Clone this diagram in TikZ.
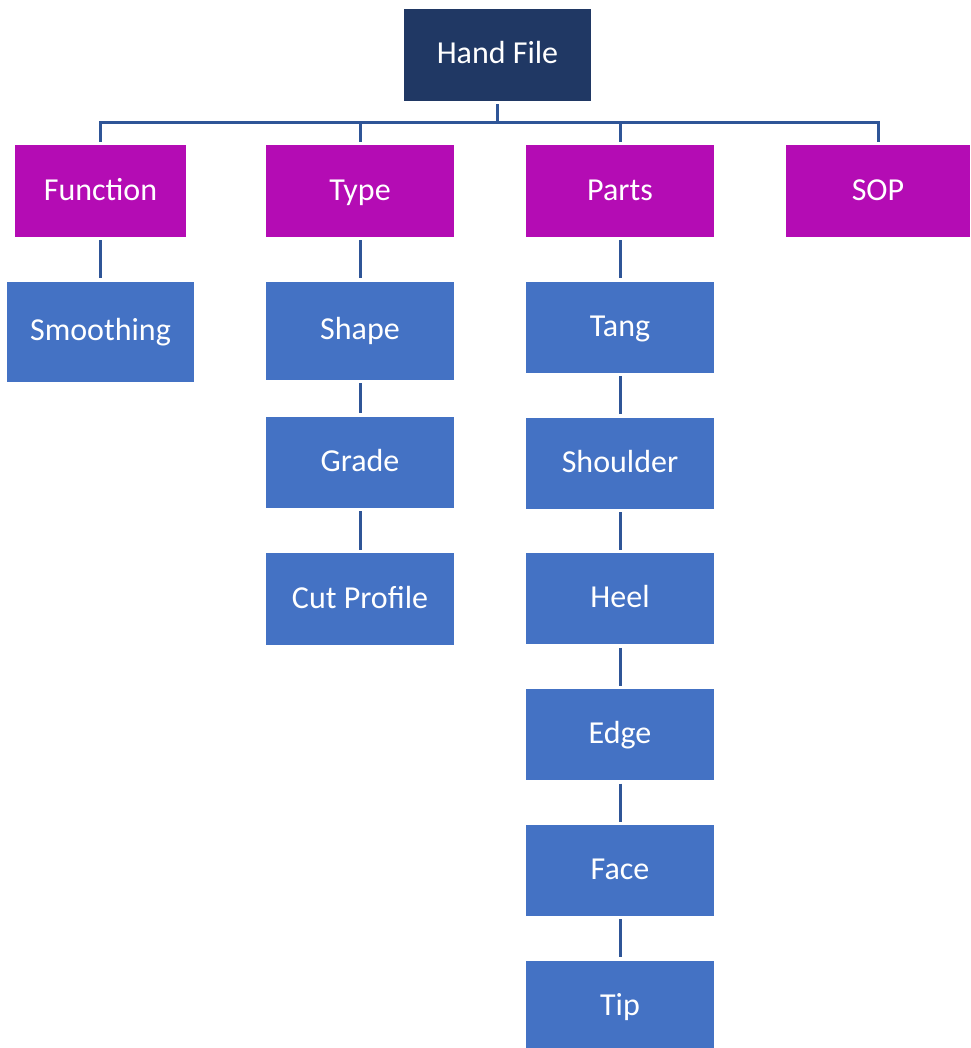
\documentclass[tikz,border=0pt]{standalone}
\usepackage{fontspec}
\setmainfont{Carlito}
\usetikzlibrary{positioning}
\definecolor{navy}{RGB}{32,56,100}
\definecolor{purp}{RGB}{180,12,180}
\definecolor{officeblue}{RGB}{68,114,196}
\definecolor{wire}{RGB}{47,85,151}

\begin{document}
\begin{tikzpicture}[x=0.5pt,y=-0.5pt,node distance=22pt]
        \tikzstyle{box}=[minimum width=94pt,minimum height=45.5pt,inner sep=0pt,text height=12.5pt,text depth=3.5pt,text=white,font=\fontsize{16}{19}\selectfont]
        \tikzstyle{rootbox}=[box,fill=navy,minimum width=93.5pt,minimum height=46pt]
        \tikzstyle{catbox}=[box,fill=purp,minimum height=46pt]
        \tikzstyle{itembox}=[box,fill=officeblue]
        \tikzstyle{link}=[draw=wire,line width=1.5pt,shorten <=1.5pt,shorten >=1.5pt]
        \tikzstyle{trunk}=[draw=wire,line width=1.5pt,shorten <=1.5pt]
        \useasboundingbox (0,0) rectangle (970,1048);
        \node[rootbox] (hand) at (497.5,55) {Hand File};
        \coordinate (bus) at (497.5,123);
        \node[catbox,minimum width=85.5pt] (func) at (100.5,191) {Function};
        \node[catbox] (type) at (360,191) {Type};
        \node[catbox] (parts) at (620,191) {Parts};
        \node[catbox,minimum width=92pt] (sop) at (878,191) {SOP};
        \node[itembox,below=of func,minimum width=93.5pt,minimum height=50pt] (smooth) {Smoothing};
        \node[itembox,below=of type,minimum height=49pt] (shape) {Shape};
        \node[itembox,below=18pt of shape] (grade) {Grade};
        \node[itembox,below=22.5pt of grade,minimum height=46pt] (cut) {Cut Profile};
        \node[itembox,below=of parts] (tang) {Tang};
        \node[itembox,below=of tang] (shoulder) {Shoulder};
        \node[itembox,below=of shoulder] (heel) {Heel};
        \node[itembox,below=of heel] (edge) {Edge};
        \node[itembox,below=of edge] (face) {Face};
        \node[itembox,below=of face] (tip) {Tip};
        \draw[trunk] (hand.south) -- (hand.south |- bus);
        \draw[link] (func.north) |- (bus) -| (sop.north);
        \draw[trunk] (type.north) -- (type.north |- bus);
        \draw[trunk] (parts.north) -- (parts.north |- bus);
        \draw[link] (func) -- (smooth);
        \draw[link] (type) -- (shape);
        \draw[link] (shape) -- (grade);
        \draw[link] (grade) -- (cut);
        \draw[link] (parts) -- (tang);
        \draw[link] (tang) -- (shoulder);
        \draw[link] (shoulder) -- (heel);
        \draw[link] (heel) -- (edge);
        \draw[link] (edge) -- (face);
        \draw[link] (face) -- (tip);
      \end{tikzpicture}
\end{document}
